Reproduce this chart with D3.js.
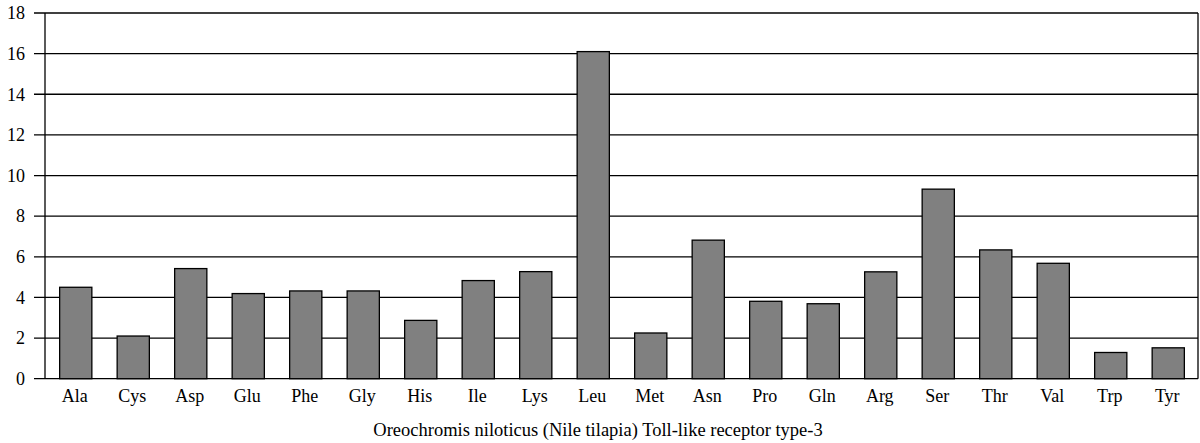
<!DOCTYPE html>
<html>
<head>
<meta charset="utf-8">
<script src="https://cdn.jsdelivr.net/npm/d3@7"></script>
<style>
  body { margin: 0; background: #fff; }
  svg text { font-family: "Liberation Serif", "Times New Roman", serif; fill: #000; }
</style>
</head>
<body>
<script>
(function (d3) {
  "use strict";

  /***** Data *****/
  var aminoAcids = ["Ala", "Cys", "Asp", "Glu", "Phe", "Gly", "His", "Ile", "Lys", "Leu",
                    "Met", "Asn", "Pro", "Gln", "Arg", "Ser", "Thr", "Val", "Trp", "Tyr"];
  var percents = [4.5, 2.1, 5.42, 4.19, 4.32, 4.32, 2.87, 4.83, 5.27, 16.1,
                  2.25, 6.82, 3.81, 3.69, 5.26, 9.33, 6.34, 5.68, 1.29, 1.52];
  var yTicks = [0, 2, 4, 6, 8, 10, 12, 14, 16, 18];
  var title = "Oreochromis niloticus (Nile tilapia) Toll-like receptor type-3";

  /***** Configuration *****/
  var width = 1200;
  var height = 443;
  var left = 45, right = 1198, top = 13, bottom = 378.7;
  var fontSize = "18px";

  var data = aminoAcids.map(function (d, i) { return { name: d, value: percents[i] }; });

  /***** Scales *****/
  var x = d3.scaleBand().domain(aminoAcids).range([left + 2, right - 1])
    .paddingInner(0.44).paddingOuter(0.22);
  var y = d3.scaleLinear().domain([0, 18]).range([bottom, top]);

  var svg = d3.select("body").append("svg")
    .attr("width", width)
    .attr("height", height);

  // horizontal grid lines with ticks
  svg.append("g").selectAll("line").data(yTicks).enter().append("line")
    .attr("x1", 34).attr("x2", right)
    .attr("y1", function (d) { return y(d); })
    .attr("y2", function (d) { return y(d); })
    .attr("stroke", "#000").attr("stroke-width", 1.3);

  // tick labels
  svg.append("g").selectAll("text").data(yTicks).enter().append("text")
    .attr("x", 25)
    .attr("y", function (d) { return y(d); })
    .attr("dy", "0.35em")
    .attr("text-anchor", "end")
    .style("font-size", fontSize)
    .text(function (d) { return d; });

  // left and right frame lines
  svg.append("line").attr("x1", left).attr("x2", left).attr("y1", top).attr("y2", bottom)
    .attr("stroke", "#000").attr("stroke-width", 1.3);
  svg.append("line").attr("x1", right).attr("x2", right).attr("y1", top).attr("y2", bottom)
    .attr("stroke", "#000").attr("stroke-width", 1.3);

  // bars
  svg.append("g").selectAll("rect").data(data).enter().append("rect")
    .attr("x", function (d) { return x(d.name); })
    .attr("y", function (d) { return y(d.value); })
    .attr("width", x.bandwidth())
    .attr("height", function (d) { return y(0) - y(d.value); })
    .attr("fill", "#808080")
    .attr("stroke", "#000")
    .attr("stroke-width", 1.3);

  // category labels
  svg.append("g").selectAll("text").data(aminoAcids).enter().append("text")
    .attr("x", function (d) { return x(d) + x.bandwidth() / 2 - 1; })
    .attr("y", 402)
    .attr("text-anchor", "middle")
    .style("font-size", fontSize)
    .text(function (d) { return d; });

  // title under the chart
  svg.append("text")
    .attr("x", 598)
    .attr("y", 436)
    .attr("text-anchor", "middle")
    .style("font-size", "18.5px")
    .text(title);

})(d3);
</script>
</body>
</html>
